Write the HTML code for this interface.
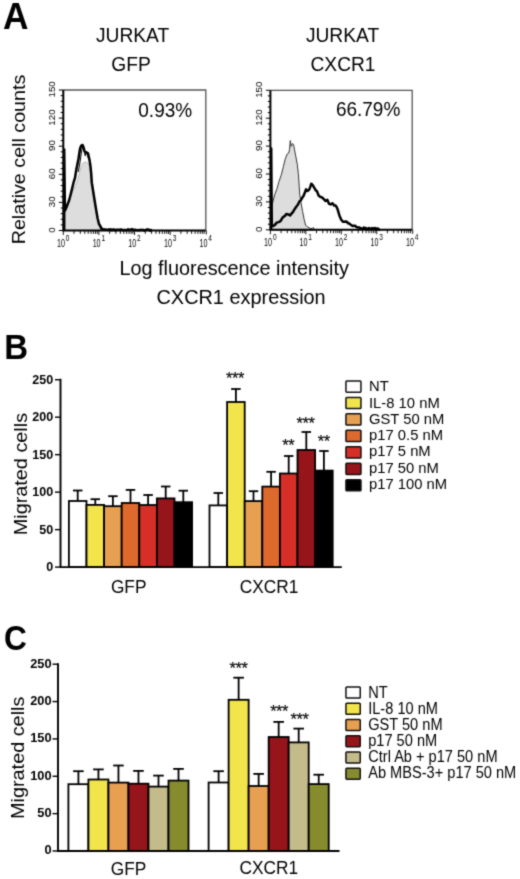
<!DOCTYPE html>
<html><head><meta charset="utf-8"><title>Figure</title><style>
html,body{margin:0;padding:0;background:#fff;width:520px;height:879px;overflow:hidden;}
svg{display:block;}
text{font-family:"Liberation Sans",sans-serif;fill:#000;}
</style></head><body>
<svg width="520" height="879" viewBox="0 0 520 879">
<defs><filter id="soft" x="0" y="0" width="1" height="1" color-interpolation-filters="sRGB"><feConvolveMatrix order="3" kernelMatrix="0.03 0.1 0.03 0.1 0.48 0.1 0.03 0.1 0.03" edgeMode="duplicate"/></filter></defs>
<rect width="520" height="879" fill="#fff"/>
<g filter="url(#soft)">
<rect width="520" height="879" fill="#fff"/>
<text transform="translate(3.00,28.50) scale(1.04,1.06)" font-size="34" font-weight="bold">A</text>
<text transform="translate(132.60,41.90) scale(1.0,1.05)" font-size="19.2" text-anchor="middle">JURKAT</text>
<text transform="translate(131.00,70.60) scale(1.0,1.05)" font-size="19.2" text-anchor="middle">GFP</text>
<text transform="translate(342.50,41.90) scale(1.0,1.05)" font-size="19.2" text-anchor="middle">JURKAT</text>
<text transform="translate(343.00,71.00) scale(1.0,1.05)" font-size="19.2" text-anchor="middle">CXCR1</text>
<text transform="translate(25.00,159.50) rotate(-90) scale(1.0,0.96)" font-size="19.7" text-anchor="middle">Relative cell counts</text>
<text transform="translate(119.40,274.80) scale(1.0,1.04)" font-size="19.85">Log fluorescence intensity</text>
<text transform="translate(156.50,304.20) scale(1.0,1.04)" font-size="19.9">CXCR1 expression</text>
<path d="M63.3,90 H205.8 V230.5" fill="none" stroke="#555" stroke-width="1.3"/>
<path d="M58.8,230.50H63.3M60.7,224.88H63.3M60.7,219.26H63.3M60.7,213.64H63.3M60.7,208.02H63.3M58.8,202.40H63.3M60.7,196.78H63.3M60.7,191.16H63.3M60.7,185.54H63.3M60.7,179.92H63.3M58.8,174.30H63.3M60.7,168.68H63.3M60.7,163.06H63.3M60.7,157.44H63.3M60.7,151.82H63.3M58.8,146.20H63.3M60.7,140.58H63.3M60.7,134.96H63.3M60.7,129.34H63.3M60.7,123.72H63.3M58.8,118.10H63.3M60.7,112.48H63.3M60.7,106.86H63.3M60.7,101.24H63.3M60.7,95.62H63.3M58.8,90.00H63.3" stroke="#000" stroke-width="1"/>
<text transform="translate(55.00,229.90) rotate(-90) scale(1.0,0.9)" font-size="9.8" text-anchor="middle">0</text>
<text transform="translate(55.00,201.80) rotate(-90) scale(1.0,0.9)" font-size="9.8" text-anchor="middle">30</text>
<text transform="translate(55.00,173.70) rotate(-90) scale(1.0,0.9)" font-size="9.8" text-anchor="middle">60</text>
<text transform="translate(55.00,145.60) rotate(-90) scale(1.0,0.9)" font-size="9.8" text-anchor="middle">90</text>
<text transform="translate(55.00,117.50) rotate(-90) scale(1.0,0.9)" font-size="9.8" text-anchor="middle">120</text>
<text transform="translate(55.00,89.40) rotate(-90) scale(1.0,0.9)" font-size="9.8" text-anchor="middle">150</text>
<path d="M63.30,230.5v4.5M74.02,230.5v3.4M80.30,230.5v3.4M84.75,230.5v3.4M88.20,230.5v3.4M91.02,230.5v3.4M93.41,230.5v3.4M95.47,230.5v3.4M97.29,230.5v3.4M98.92,230.5v4.5M109.65,230.5v3.4M115.92,230.5v3.4M120.37,230.5v3.4M123.83,230.5v3.4M126.65,230.5v3.4M129.03,230.5v3.4M131.10,230.5v3.4M132.92,230.5v3.4M134.55,230.5v4.5M145.27,230.5v3.4M151.55,230.5v3.4M156.00,230.5v3.4M159.45,230.5v3.4M162.27,230.5v3.4M164.66,230.5v3.4M166.72,230.5v3.4M168.54,230.5v3.4M170.18,230.5v4.5M180.90,230.5v3.4M187.17,230.5v3.4M191.62,230.5v3.4M195.08,230.5v3.4M197.90,230.5v3.4M200.28,230.5v3.4M202.35,230.5v3.4M204.17,230.5v3.4" stroke="#000" stroke-width="0.9"/>
<text transform="translate(65.00,246.70) scale(0.69,1.0)" font-size="10.4" text-anchor="end">10</text>
<text transform="translate(65.80,241.10) scale(0.8,1.0)" font-size="8.2">0</text>
<text transform="translate(100.62,246.70) scale(0.69,1.0)" font-size="10.4" text-anchor="end">10</text>
<text transform="translate(101.42,241.10) scale(0.8,1.0)" font-size="8.2">1</text>
<text transform="translate(136.25,246.70) scale(0.69,1.0)" font-size="10.4" text-anchor="end">10</text>
<text transform="translate(137.05,241.10) scale(0.8,1.0)" font-size="8.2">2</text>
<text transform="translate(171.88,246.70) scale(0.69,1.0)" font-size="10.4" text-anchor="end">10</text>
<text transform="translate(172.68,241.10) scale(0.8,1.0)" font-size="8.2">3</text>
<text transform="translate(207.50,246.70) scale(0.69,1.0)" font-size="10.4" text-anchor="end">10</text>
<text transform="translate(208.30,241.10) scale(0.8,1.0)" font-size="8.2">4</text>
<line x1="206.3" y1="230.5" x2="206.3" y2="234.5" stroke="#000" stroke-width="0.9"/>
<polygon points="64.5,230.5 64.5,212 65.2,211.5 67.5,205.5 69.5,200 71.5,194.2 73.8,189 76.2,183.8 78,178.5 79.6,172.3 81.3,166.5 83.1,163 84.2,162.3 85.5,162 87.7,163 89.2,165 90.4,172 91.4,182 92.9,192 94.3,201 95.7,210 97.2,218.5 98.6,225 100.2,229.5 101,230.5" fill="#dddddd" stroke="#999" stroke-width="0.6"/>
<polyline points="78.2,172 79.6,165 80.6,158 81.6,151 82.6,146.5 83.6,148.5 84.4,152 85.2,156 86.2,152.5 87.2,153.5 88.3,158" fill="none" stroke="#111" stroke-width="1.1"/>
<polyline points="64.2,230.5 64.2,149.5 64.9,210.6 66.3,207.7 67.8,203.8 69.2,200.0 70.7,194.2 72.1,188.5 73.5,182.7 75.0,177.9 76.2,170.3 77.4,164.2 78.5,158.8 79.3,153.4 80.1,148.5 81.3,145.6 82.6,145.0 83.6,147.6 84.6,151.5 86.4,152.4 88.0,153.4 88.9,157.2 89.7,161.1 90.5,166.5 91.1,172.6 91.8,182.7 93.3,192.3 94.7,201.0 96.1,209.6 97.6,218.3 99.0,224.0 100.2,225.9 101.4,228.4 102.8,229.1 104.3,229.6 105.4,229.5 106.6,229.8 107.7,229.9 108.9,229.3 110.0,229.9 111.0,229.3 112.0,230.3 113.0,229.5 114.0,229.5 115.0,230.4 116.0,229.7 117.0,230.1 118.0,229.7 119.0,229.7 120.0,229.9 121.0,229.4 122.0,230.0 123.0,230.3 124.0,229.9 125.0,229.9 126.0,230.2 127.0,230.0 128.0,229.3 129.0,230.1 130.0,229.8 131.0,229.4 132.0,229.1 133.0,229.6 134.0,230.1 135.0,229.7 136.0,230.0 137.0,230.2 138.0,230.1 139.0,230.4 140.0,229.9 141.0,229.8 142.0,230.2 143.0,229.8 144.0,230.4 145.0,230.3 146.0,229.8 147.0,229.4 148.0,229.5 149.0,229.7 150.0,230.7 151.0,230.1 152.0,230.3" fill="none" stroke="#000" stroke-width="2.5" stroke-linejoin="round"/>
<path d="M63.3,90 V230.5 H205.8" fill="none" stroke="#000" stroke-width="2"/>
<text transform="translate(138.30,117.30) scale(1.0,1.04)" font-size="19">0.93%</text>
<path d="M270.4,90.3 H412.2 V229.8" fill="none" stroke="#555" stroke-width="1.3"/>
<path d="M265.9,229.80H270.4M267.8,224.22H270.4M267.8,218.64H270.4M267.8,213.06H270.4M267.8,207.48H270.4M265.9,201.90H270.4M267.8,196.32H270.4M267.8,190.74H270.4M267.8,185.16H270.4M267.8,179.58H270.4M265.9,174.00H270.4M267.8,168.42H270.4M267.8,162.84H270.4M267.8,157.26H270.4M267.8,151.68H270.4M265.9,146.10H270.4M267.8,140.52H270.4M267.8,134.94H270.4M267.8,129.36H270.4M267.8,123.78H270.4M265.9,118.20H270.4M267.8,112.62H270.4M267.8,107.04H270.4M267.8,101.46H270.4M267.8,95.88H270.4M265.9,90.30H270.4" stroke="#000" stroke-width="1"/>
<text transform="translate(262.20,229.20) rotate(-90) scale(1.0,0.9)" font-size="9.8" text-anchor="middle">0</text>
<text transform="translate(262.20,201.30) rotate(-90) scale(1.0,0.9)" font-size="9.8" text-anchor="middle">30</text>
<text transform="translate(262.20,173.40) rotate(-90) scale(1.0,0.9)" font-size="9.8" text-anchor="middle">60</text>
<text transform="translate(262.20,145.50) rotate(-90) scale(1.0,0.9)" font-size="9.8" text-anchor="middle">90</text>
<text transform="translate(262.20,117.60) rotate(-90) scale(1.0,0.9)" font-size="9.8" text-anchor="middle">120</text>
<text transform="translate(262.20,89.70) rotate(-90) scale(1.0,0.9)" font-size="9.8" text-anchor="middle">150</text>
<path d="M270.40,229.8v4.5M281.07,229.8v3.4M287.31,229.8v3.4M291.74,229.8v3.4M295.18,229.8v3.4M297.99,229.8v3.4M300.36,229.8v3.4M302.41,229.8v3.4M304.23,229.8v3.4M305.85,229.8v4.5M316.52,229.8v3.4M322.76,229.8v3.4M327.19,229.8v3.4M330.63,229.8v3.4M333.44,229.8v3.4M335.81,229.8v3.4M337.86,229.8v3.4M339.68,229.8v3.4M341.30,229.8v4.5M351.97,229.8v3.4M358.21,229.8v3.4M362.64,229.8v3.4M366.08,229.8v3.4M368.89,229.8v3.4M371.26,229.8v3.4M373.31,229.8v3.4M375.13,229.8v3.4M376.75,229.8v4.5M387.42,229.8v3.4M393.66,229.8v3.4M398.09,229.8v3.4M401.53,229.8v3.4M404.34,229.8v3.4M406.71,229.8v3.4M408.76,229.8v3.4M410.58,229.8v3.4" stroke="#000" stroke-width="0.9"/>
<text transform="translate(272.10,246.00) scale(0.69,1.0)" font-size="10.4" text-anchor="end">10</text>
<text transform="translate(272.90,240.40) scale(0.8,1.0)" font-size="8.2">0</text>
<text transform="translate(307.55,246.00) scale(0.69,1.0)" font-size="10.4" text-anchor="end">10</text>
<text transform="translate(308.35,240.40) scale(0.8,1.0)" font-size="8.2">1</text>
<text transform="translate(343.00,246.00) scale(0.69,1.0)" font-size="10.4" text-anchor="end">10</text>
<text transform="translate(343.80,240.40) scale(0.8,1.0)" font-size="8.2">2</text>
<text transform="translate(378.45,246.00) scale(0.69,1.0)" font-size="10.4" text-anchor="end">10</text>
<text transform="translate(379.25,240.40) scale(0.8,1.0)" font-size="8.2">3</text>
<text transform="translate(413.90,246.00) scale(0.69,1.0)" font-size="10.4" text-anchor="end">10</text>
<text transform="translate(414.70,240.40) scale(0.8,1.0)" font-size="8.2">4</text>
<line x1="412.7" y1="229.8" x2="412.7" y2="233.8" stroke="#000" stroke-width="0.9"/>
<polygon points="271,229.8 271,206.7 272.3,203.8 273.8,198.1 275.2,193.3 277.1,188.5 278.6,182.7 279.5,180 281.5,174.2 283.4,166.5 285.3,158.8 287.2,154 288.7,153.1 289.6,149.2 290.3,140.6 291.1,146.3 292.5,143.5 293.5,144.4 294.4,149.2 295.9,156.9 297.3,164.6 298.3,173.3 298.8,180 299.7,194.2 301.2,203.8 302.6,211.5 304.1,219.2 305.5,225 307.4,226.9 310.3,228.4 312,228.6 313.2,227.4 314.5,229.8" fill="#dddddd" stroke="#333" stroke-width="1.0"/>
<polyline points="271.2,229.8 271.2,148.5 271.8,225 273.3,226.0 274.7,225.0 275.7,224.0 276.7,222.6 278.6,222.1 280.5,221.2 282.4,217.8 284.3,216.3 285.3,215.5 286.3,214.0 288.2,214.4 290.1,215.4 292.0,213.0 293.0,212.0 294.0,210.1 295.9,207.2 297.8,204.8 299.7,201.0 300.7,200.5 301.7,198.6 303.6,195.7 305.0,192.3 306.0,189.4 307.4,190.9 309.3,189.4 310.3,186.9 311.3,183.7 312.9,185.4 314.6,188.3 315.8,190.4 316.9,191.1 318.7,195.8 320.4,196.9 322.1,197.5 323.8,199.2 325.6,201.0 327.3,199.8 329.0,203.8 330.8,204.4 332.5,203.3 334.2,205.6 335.4,205.4 336.5,206.7 337.7,209.6 339.4,215.4 341.1,219.4 342.9,221.7 344.6,221.7 345.8,221.6 346.9,221.7 348.0,223.3 349.2,223.4 350.4,224.5 351.5,225.2 352.6,226.1 353.8,225.8 355.0,225.7 356.1,226.9 357.2,227.2 358.4,227.5 359.5,227.5 360.7,228.3 361.7,228.4 362.8,228.5 363.8,227.6 364.8,228.0 365.9,228.1 366.9,229.2 367.9,229.0 369.0,228.0 370.0,228.6 371.0,229.1 372.0,228.1 373.0,228.9 374.0,228.2 375.0,228.0 376.0,229.4 377.0,228.4 378.0,228.5 379.0,229.7 380.0,229.0" fill="none" stroke="#000" stroke-width="2.5" stroke-linejoin="round"/>
<path d="M270.4,90.3 V229.8 H412.2" fill="none" stroke="#000" stroke-width="2"/>
<text transform="translate(335.90,115.50) scale(1.0,1.04)" font-size="19">66.79%</text>
<text transform="translate(4.20,358.60) scale(0.97,1.04)" font-size="34" font-weight="bold">B</text>
<line x1="55.0" y1="567.10" x2="60.5" y2="567.10" stroke="#000" stroke-width="1.4"/>
<text transform="translate(53.10,571.00)" font-size="12.5" font-weight="bold" text-anchor="end">0</text>
<line x1="55.0" y1="529.62" x2="60.5" y2="529.62" stroke="#000" stroke-width="1.4"/>
<text transform="translate(53.10,533.52)" font-size="12.5" font-weight="bold" text-anchor="end">50</text>
<line x1="55.0" y1="492.14" x2="60.5" y2="492.14" stroke="#000" stroke-width="1.4"/>
<text transform="translate(53.10,496.04)" font-size="12.5" font-weight="bold" text-anchor="end">100</text>
<line x1="55.0" y1="454.66" x2="60.5" y2="454.66" stroke="#000" stroke-width="1.4"/>
<text transform="translate(53.10,458.56)" font-size="12.5" font-weight="bold" text-anchor="end">150</text>
<line x1="55.0" y1="417.18" x2="60.5" y2="417.18" stroke="#000" stroke-width="1.4"/>
<text transform="translate(53.10,421.08)" font-size="12.5" font-weight="bold" text-anchor="end">200</text>
<line x1="55.0" y1="379.70" x2="60.5" y2="379.70" stroke="#000" stroke-width="1.4"/>
<text transform="translate(53.10,383.60)" font-size="12.5" font-weight="bold" text-anchor="end">250</text>
<line x1="77.70" y1="490.5" x2="77.70" y2="501.0" stroke="#000" stroke-width="1.8"/>
<line x1="72.95" y1="490.5" x2="82.45" y2="490.5" stroke="#000" stroke-width="1.8"/>
<rect x="68.90" y="501.0" width="17.60" height="66.10" fill="#ffffff" stroke="#000" stroke-width="1.8"/>
<line x1="95.30" y1="499.2" x2="95.30" y2="504.9" stroke="#000" stroke-width="1.8"/>
<line x1="90.55" y1="499.2" x2="100.05" y2="499.2" stroke="#000" stroke-width="1.8"/>
<rect x="86.50" y="504.9" width="17.60" height="62.20" fill="#f2e54c" stroke="#000" stroke-width="1.8"/>
<line x1="112.90" y1="496.2" x2="112.90" y2="506.2" stroke="#000" stroke-width="1.8"/>
<line x1="108.15" y1="496.2" x2="117.65" y2="496.2" stroke="#000" stroke-width="1.8"/>
<rect x="104.10" y="506.2" width="17.60" height="60.90" fill="#e7a052" stroke="#000" stroke-width="1.8"/>
<line x1="130.50" y1="489.9" x2="130.50" y2="503.0" stroke="#000" stroke-width="1.8"/>
<line x1="125.75" y1="489.9" x2="135.25" y2="489.9" stroke="#000" stroke-width="1.8"/>
<rect x="121.70" y="503.0" width="17.60" height="64.10" fill="#dd6a2c" stroke="#000" stroke-width="1.8"/>
<line x1="148.10" y1="495.0" x2="148.10" y2="505.0" stroke="#000" stroke-width="1.8"/>
<line x1="143.35" y1="495.0" x2="152.85" y2="495.0" stroke="#000" stroke-width="1.8"/>
<rect x="139.30" y="505.0" width="17.60" height="62.10" fill="#d62f27" stroke="#000" stroke-width="1.8"/>
<line x1="165.70" y1="486.5" x2="165.70" y2="498.4" stroke="#000" stroke-width="1.8"/>
<line x1="160.95" y1="486.5" x2="170.45" y2="486.5" stroke="#000" stroke-width="1.8"/>
<rect x="156.90" y="498.4" width="17.60" height="68.70" fill="#96151b" stroke="#000" stroke-width="1.8"/>
<line x1="183.30" y1="490.7" x2="183.30" y2="502.2" stroke="#000" stroke-width="1.8"/>
<line x1="178.55" y1="490.7" x2="188.05" y2="490.7" stroke="#000" stroke-width="1.8"/>
<rect x="174.50" y="502.2" width="17.60" height="64.90" fill="#000000" stroke="#000" stroke-width="1.8"/>
<line x1="218.30" y1="493.0" x2="218.30" y2="505.4" stroke="#000" stroke-width="1.8"/>
<line x1="213.55" y1="493.0" x2="223.05" y2="493.0" stroke="#000" stroke-width="1.8"/>
<rect x="209.50" y="505.4" width="17.60" height="61.70" fill="#ffffff" stroke="#000" stroke-width="1.8"/>
<line x1="235.90" y1="389.0" x2="235.90" y2="402.0" stroke="#000" stroke-width="1.8"/>
<line x1="231.15" y1="389.0" x2="240.65" y2="389.0" stroke="#000" stroke-width="1.8"/>
<rect x="227.10" y="402.0" width="17.60" height="165.10" fill="#f2e54c" stroke="#000" stroke-width="1.8"/>
<line x1="253.50" y1="491.2" x2="253.50" y2="501.1" stroke="#000" stroke-width="1.8"/>
<line x1="248.75" y1="491.2" x2="258.25" y2="491.2" stroke="#000" stroke-width="1.8"/>
<rect x="244.70" y="501.1" width="17.60" height="66.00" fill="#e7a052" stroke="#000" stroke-width="1.8"/>
<line x1="271.10" y1="471.8" x2="271.10" y2="486.6" stroke="#000" stroke-width="1.8"/>
<line x1="266.35" y1="471.8" x2="275.85" y2="471.8" stroke="#000" stroke-width="1.8"/>
<rect x="262.30" y="486.6" width="17.60" height="80.50" fill="#dd6a2c" stroke="#000" stroke-width="1.8"/>
<line x1="288.70" y1="456.0" x2="288.70" y2="473.5" stroke="#000" stroke-width="1.8"/>
<line x1="283.95" y1="456.0" x2="293.45" y2="456.0" stroke="#000" stroke-width="1.8"/>
<rect x="279.90" y="473.5" width="17.60" height="93.60" fill="#d62f27" stroke="#000" stroke-width="1.8"/>
<line x1="306.30" y1="432.0" x2="306.30" y2="450.0" stroke="#000" stroke-width="1.8"/>
<line x1="301.55" y1="432.0" x2="311.05" y2="432.0" stroke="#000" stroke-width="1.8"/>
<rect x="297.50" y="450.0" width="17.60" height="117.10" fill="#96151b" stroke="#000" stroke-width="1.8"/>
<line x1="323.90" y1="451.0" x2="323.90" y2="470.6" stroke="#000" stroke-width="1.8"/>
<line x1="319.15" y1="451.0" x2="328.65" y2="451.0" stroke="#000" stroke-width="1.8"/>
<rect x="315.10" y="470.6" width="17.60" height="96.50" fill="#000000" stroke="#000" stroke-width="1.8"/>
<text transform="translate(225.95,384.30)" font-size="16.5" letter-spacing="-0.45" stroke="#000" stroke-width="0.15">***</text>
<text transform="translate(282.25,450.60)" font-size="16.5" letter-spacing="-0.45" stroke="#000" stroke-width="0.15">**</text>
<text transform="translate(296.45,429.20)" font-size="16.5" letter-spacing="-0.45" stroke="#000" stroke-width="0.15">***</text>
<text transform="translate(317.85,447.30)" font-size="16.5" letter-spacing="-0.45" stroke="#000" stroke-width="0.15">**</text>
<path d="M60.5,378.8 V567.1 H341.8" fill="none" stroke="#000" stroke-width="1.9"/>
<text transform="translate(128.70,593.40) scale(1.0,1.05)" font-size="17.3" text-anchor="middle">GFP</text>
<text transform="translate(269.00,592.70) scale(1.0,1.05)" font-size="17.3" text-anchor="middle">CXCR1</text>
<text transform="translate(26.50,474.10) rotate(-90) scale(1.0,0.94)" font-size="19.85" text-anchor="middle">Migrated cells</text>
<rect x="345.95" y="380.95" width="15.0" height="11.2" rx="0.8" fill="#ffffff" stroke="#111" stroke-width="1.5"/>
<text transform="translate(369.00,391.40) scale(1.0,1.03)" font-size="14.8">NT</text>
<rect x="345.95" y="397.40" width="15.0" height="11.2" rx="0.8" fill="#f2e54c" stroke="#111" stroke-width="1.5"/>
<text transform="translate(369.00,407.65) scale(1.0,1.03)" font-size="14.8">IL-8 10 nM</text>
<rect x="345.95" y="413.85" width="15.0" height="11.2" rx="0.8" fill="#e7a052" stroke="#111" stroke-width="1.5"/>
<text transform="translate(369.00,423.90) scale(1.0,1.03)" font-size="14.8">GST 50 nM</text>
<rect x="345.95" y="430.30" width="15.0" height="11.2" rx="0.8" fill="#dd6a2c" stroke="#111" stroke-width="1.5"/>
<text transform="translate(369.00,440.15) scale(1.0,1.03)" font-size="14.8">p17 0.5 nM</text>
<rect x="345.95" y="446.75" width="15.0" height="11.2" rx="0.8" fill="#d62f27" stroke="#111" stroke-width="1.5"/>
<text transform="translate(369.00,456.40) scale(1.0,1.03)" font-size="14.8">p17 5 nM</text>
<rect x="345.95" y="463.20" width="15.0" height="11.2" rx="0.8" fill="#96151b" stroke="#111" stroke-width="1.5"/>
<text transform="translate(369.00,472.65) scale(1.0,1.03)" font-size="14.8">p17 50 nM</text>
<rect x="345.95" y="479.65" width="15.0" height="11.2" rx="0.8" fill="#000000" stroke="#111" stroke-width="1.5"/>
<text transform="translate(369.00,488.90) scale(1.0,1.03)" font-size="14.8">p17 100 nM</text>
<text transform="translate(4.10,649.70) scale(0.93,1.045)" font-size="34" font-weight="bold">C</text>
<line x1="52.5" y1="851.00" x2="58" y2="851.00" stroke="#000" stroke-width="1.4"/>
<text transform="translate(51.60,854.40)" font-size="12.8" font-weight="bold" text-anchor="end">0</text>
<line x1="52.5" y1="813.64" x2="58" y2="813.64" stroke="#000" stroke-width="1.4"/>
<text transform="translate(51.60,817.04)" font-size="12.8" font-weight="bold" text-anchor="end">50</text>
<line x1="52.5" y1="776.28" x2="58" y2="776.28" stroke="#000" stroke-width="1.4"/>
<text transform="translate(51.60,779.68)" font-size="12.8" font-weight="bold" text-anchor="end">100</text>
<line x1="52.5" y1="738.92" x2="58" y2="738.92" stroke="#000" stroke-width="1.4"/>
<text transform="translate(51.60,742.32)" font-size="12.8" font-weight="bold" text-anchor="end">150</text>
<line x1="52.5" y1="701.56" x2="58" y2="701.56" stroke="#000" stroke-width="1.4"/>
<text transform="translate(51.60,704.96)" font-size="12.8" font-weight="bold" text-anchor="end">200</text>
<line x1="52.5" y1="664.20" x2="58" y2="664.20" stroke="#000" stroke-width="1.4"/>
<text transform="translate(51.60,667.60)" font-size="12.8" font-weight="bold" text-anchor="end">250</text>
<line x1="78.41" y1="771.2" x2="78.41" y2="784.2" stroke="#000" stroke-width="1.8"/>
<line x1="73.11" y1="771.2" x2="83.71" y2="771.2" stroke="#000" stroke-width="1.8"/>
<rect x="68.40" y="784.2" width="20.02" height="66.80" fill="#ffffff" stroke="#000" stroke-width="1.8"/>
<line x1="98.43" y1="769.4" x2="98.43" y2="779.5" stroke="#000" stroke-width="1.8"/>
<line x1="93.13" y1="769.4" x2="103.73" y2="769.4" stroke="#000" stroke-width="1.8"/>
<rect x="88.42" y="779.5" width="20.02" height="71.50" fill="#f2e54c" stroke="#000" stroke-width="1.8"/>
<line x1="118.45" y1="765.5" x2="118.45" y2="782.6" stroke="#000" stroke-width="1.8"/>
<line x1="113.15" y1="765.5" x2="123.75" y2="765.5" stroke="#000" stroke-width="1.8"/>
<rect x="108.44" y="782.6" width="20.02" height="68.40" fill="#e7a052" stroke="#000" stroke-width="1.8"/>
<line x1="138.47" y1="770.9" x2="138.47" y2="783.7" stroke="#000" stroke-width="1.8"/>
<line x1="133.17" y1="770.9" x2="143.77" y2="770.9" stroke="#000" stroke-width="1.8"/>
<rect x="128.46" y="783.7" width="20.02" height="67.30" fill="#96151b" stroke="#000" stroke-width="1.8"/>
<line x1="158.49" y1="775.6" x2="158.49" y2="786.6" stroke="#000" stroke-width="1.8"/>
<line x1="153.19" y1="775.6" x2="163.79" y2="775.6" stroke="#000" stroke-width="1.8"/>
<rect x="148.48" y="786.6" width="20.02" height="64.40" fill="#c4bb8a" stroke="#000" stroke-width="1.8"/>
<line x1="178.51" y1="768.9" x2="178.51" y2="780.6" stroke="#000" stroke-width="1.8"/>
<line x1="173.21" y1="768.9" x2="183.81" y2="768.9" stroke="#000" stroke-width="1.8"/>
<rect x="168.50" y="780.6" width="20.02" height="70.40" fill="#868b2e" stroke="#000" stroke-width="1.8"/>
<line x1="218.61" y1="771.2" x2="218.61" y2="782.5" stroke="#000" stroke-width="1.8"/>
<line x1="213.31" y1="771.2" x2="223.91" y2="771.2" stroke="#000" stroke-width="1.8"/>
<rect x="208.60" y="782.5" width="20.02" height="68.50" fill="#ffffff" stroke="#000" stroke-width="1.8"/>
<line x1="238.63" y1="677.7" x2="238.63" y2="699.8" stroke="#000" stroke-width="1.8"/>
<line x1="233.33" y1="677.7" x2="243.93" y2="677.7" stroke="#000" stroke-width="1.8"/>
<rect x="228.62" y="699.8" width="20.02" height="151.20" fill="#f2e54c" stroke="#000" stroke-width="1.8"/>
<line x1="258.65" y1="773.9" x2="258.65" y2="786.0" stroke="#000" stroke-width="1.8"/>
<line x1="253.35" y1="773.9" x2="263.95" y2="773.9" stroke="#000" stroke-width="1.8"/>
<rect x="248.64" y="786.0" width="20.02" height="65.00" fill="#e7a052" stroke="#000" stroke-width="1.8"/>
<line x1="278.67" y1="721.9" x2="278.67" y2="737.0" stroke="#000" stroke-width="1.8"/>
<line x1="273.37" y1="721.9" x2="283.97" y2="721.9" stroke="#000" stroke-width="1.8"/>
<rect x="268.66" y="737.0" width="20.02" height="114.00" fill="#96151b" stroke="#000" stroke-width="1.8"/>
<line x1="298.69" y1="728.6" x2="298.69" y2="742.4" stroke="#000" stroke-width="1.8"/>
<line x1="293.39" y1="728.6" x2="303.99" y2="728.6" stroke="#000" stroke-width="1.8"/>
<rect x="288.68" y="742.4" width="20.02" height="108.60" fill="#c4bb8a" stroke="#000" stroke-width="1.8"/>
<line x1="318.71" y1="774.7" x2="318.71" y2="784.1" stroke="#000" stroke-width="1.8"/>
<line x1="313.41" y1="774.7" x2="324.01" y2="774.7" stroke="#000" stroke-width="1.8"/>
<rect x="308.70" y="784.1" width="20.02" height="66.90" fill="#868b2e" stroke="#000" stroke-width="1.8"/>
<text transform="translate(229.55,674.40)" font-size="16.5" letter-spacing="-0.45" stroke="#000" stroke-width="0.15">***</text>
<text transform="translate(270.15,717.30)" font-size="16.5" letter-spacing="-0.45" stroke="#000" stroke-width="0.15">***</text>
<text transform="translate(290.55,724.70)" font-size="16.5" letter-spacing="-0.45" stroke="#000" stroke-width="0.15">***</text>
<path d="M58,663.3000000000001 V851 H339.5" fill="none" stroke="#000" stroke-width="1.9"/>
<text transform="translate(128.50,874.60) scale(1.0,1.05)" font-size="17.3" text-anchor="middle">GFP</text>
<text transform="translate(268.70,873.90) scale(1.0,1.05)" font-size="17.3" text-anchor="middle">CXCR1</text>
<text transform="translate(24.30,757.80) rotate(-90) scale(1.0,0.94)" font-size="19.85" text-anchor="middle">Migrated cells</text>
<rect x="345.95" y="687.05" width="14.3" height="10.9" rx="0.8" fill="#ffffff" stroke="#111" stroke-width="1.5"/>
<text transform="translate(368.20,697.90) scale(1.0,1.07)" font-size="14.6">NT</text>
<rect x="345.95" y="703.29" width="14.3" height="10.9" rx="0.8" fill="#f2e54c" stroke="#111" stroke-width="1.5"/>
<text transform="translate(368.20,714.00) scale(1.0,1.07)" font-size="14.6">IL-8 10 nM</text>
<rect x="345.95" y="719.53" width="14.3" height="10.9" rx="0.8" fill="#e7a052" stroke="#111" stroke-width="1.5"/>
<text transform="translate(368.20,730.10) scale(1.0,1.07)" font-size="14.6">GST 50 nM</text>
<rect x="345.95" y="735.77" width="14.3" height="10.9" rx="0.8" fill="#96151b" stroke="#111" stroke-width="1.5"/>
<text transform="translate(368.20,746.20) scale(1.0,1.07)" font-size="14.6">p17 50 nM</text>
<rect x="345.95" y="752.01" width="14.3" height="10.9" rx="0.8" fill="#c4bb8a" stroke="#111" stroke-width="1.5"/>
<text transform="translate(368.20,762.30) scale(1.0,1.07)" font-size="14.6">Ctrl Ab + p17 50 nM</text>
<rect x="345.95" y="768.25" width="14.3" height="10.9" rx="0.8" fill="#868b2e" stroke="#111" stroke-width="1.5"/>
<text transform="translate(368.20,778.40) scale(1.0,1.07)" font-size="14.6">Ab MBS-3+ p17 50 nM</text>
</g>
</svg>
</body></html>
